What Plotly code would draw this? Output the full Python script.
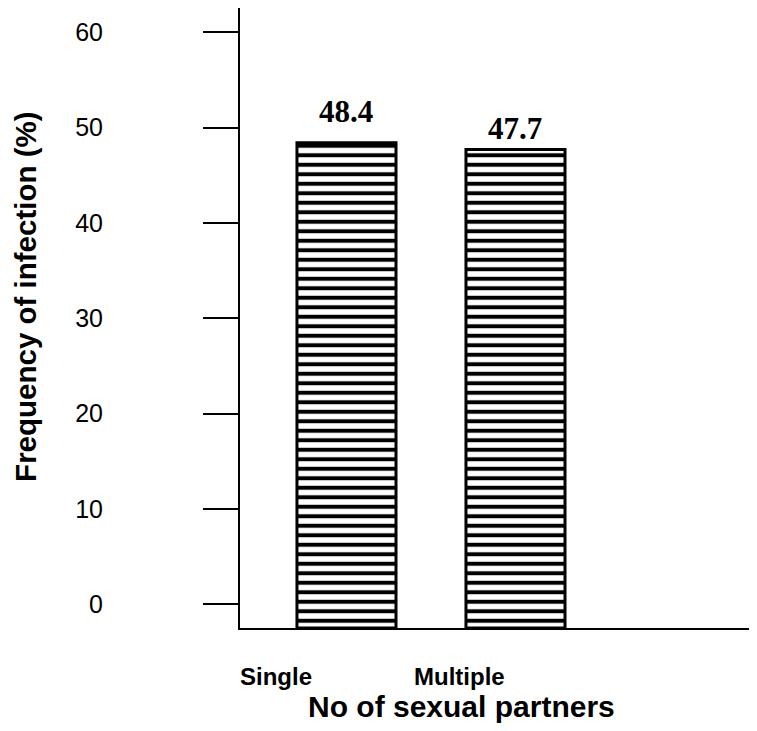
import plotly.graph_objects as go

# ---- data ----
categories = ["Single", "Multiple"]
infection_pct = [48.4, 47.7]
y_tick_values = [0, 10, 20, 30, 40, 50, 60]
y_tick_labels = ["0", "10", "20", "30", "40", "50", "60"]
x_title = "No of sexual partners"
y_title = "Frequency of infection (%)"

# ---- layout constants ----
AXIS_FLOOR = -2.5     # the baseline sits a little below the 0 tick in the original
AXIS_TOP = 62.55
# the page body has an 8px margin, so the figure is a bit smaller than the window
W, H = 749, 723
ML, MR, MT, MB = 232, 0, 0, 103

fig = go.Figure()
fig.add_trace(go.Bar(
    x=categories,
    y=[v - AXIS_FLOOR for v in infection_pct],
    base=AXIS_FLOOR,
    width=0.586,
    customdata=infection_pct,
    hovertemplate="%{x}: %{customdata}%<extra></extra>",
    marker=dict(
        color="white",
        line=dict(color="black", width=3),
        pattern=dict(shape="-", size=9.5, solidity=0.42, fgcolor="black",
                     fgopacity=1, bgcolor="white", fillmode="replace"),
    ),
    showlegend=False,
))

annotations = []
# value labels above the bars
value_label_shifts = [31, 21]
for cat, v, dy in zip(categories, infection_pct, value_label_shifts):
    annotations.append(dict(
        x=cat, xref="x", y=v, yref="y", yshift=dy,
        text=f"<b>{v:.1f}</b>", showarrow=False, xanchor="center", yanchor="middle",
        font=dict(family="Liberation Serif", size=31, color="black"),
    ))
# category labels (shifted left of the bars as in the original)
label_shifts = [-70.5, -55.5]
for cat, dx in zip(categories, label_shifts):
    annotations.append(dict(
        x=cat, xref="x", y=-0.079, yref="paper", xshift=dx,
        text=f"<b>{cat}</b>", showarrow=False, xanchor="center", yanchor="middle",
        font=dict(family="Liberation Sans", size=24, color="black"),
    ))
annotations.append(dict(
    x=0.4275, xref="paper", y=-0.1274, yref="paper",
    text=f"<b>{x_title}</b>", showarrow=False, xanchor="center", yanchor="middle",
    font=dict(family="Liberation Sans", size=30, color="black"),
))
annotations.append(dict(
    x=-0.414, xref="paper", y=0.534, yref="paper", textangle=-90,
    text=f"<b>{y_title}</b>", showarrow=False, xanchor="center", yanchor="middle",
    font=dict(family="Liberation Sans", size=29.5, color="black"),
))

fig.update_layout(
    width=W, height=H,
    margin=dict(l=ML, r=MR, t=MT, b=MB, pad=0),
    paper_bgcolor="white", plot_bgcolor="white",
    xaxis=dict(
        type="category",
        range=[-0.63, 2.429],
        showline=True, linecolor="black", linewidth=2,
        showticklabels=False, ticks="", showgrid=False, zeroline=False,
        fixedrange=True,
    ),
    yaxis=dict(
        range=[AXIS_FLOOR, AXIS_TOP],
        tickmode="array", tickvals=y_tick_values, ticktext=y_tick_labels,
        showline=True, linecolor="black", linewidth=2,
        ticks="outside", ticklen=35, tickwidth=2, tickcolor="black",
        ticklabelstandoff=95,
        tickfont=dict(family="Liberation Sans", size=25, color="black"),
        showgrid=False, zeroline=False, fixedrange=True,
    ),
    annotations=annotations,
)

fig.write_html("out.html")
